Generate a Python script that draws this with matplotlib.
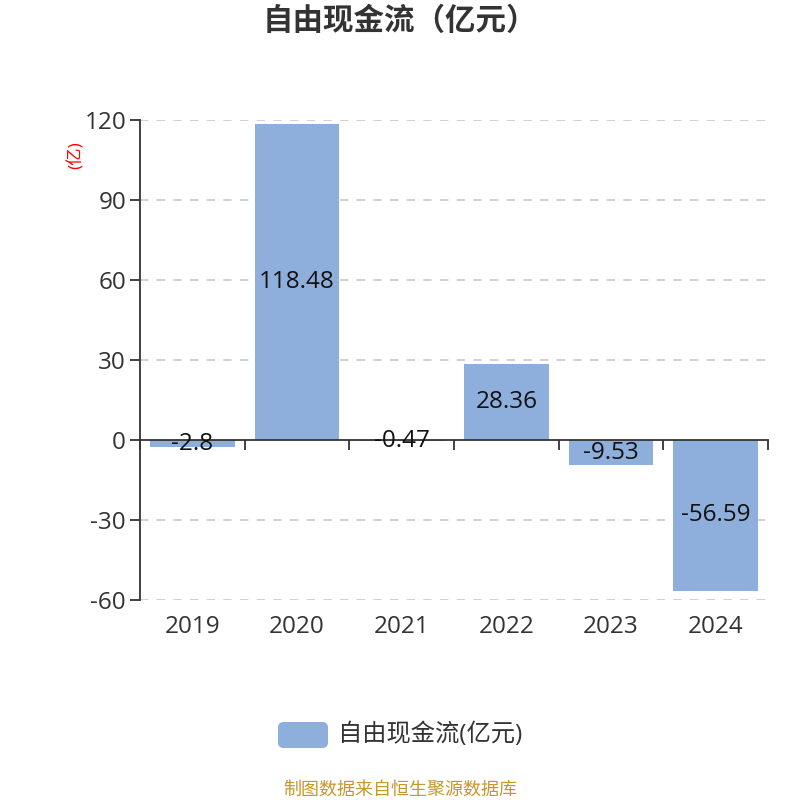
import numpy as np
import matplotlib.pyplot as plt
from matplotlib.patches import FancyBboxPatch
from matplotlib.transforms import blended_transform_factory

plt.rcParams['font.family'] = ['Open Sans', 'Noto Sans CJK SC', 'DejaVu Sans']

# 数据
years = ["2019", "2020", "2021", "2022", "2023", "2024"]
fcf = [-2.8, 118.48, -0.47, 28.36, -9.53, -56.59]
labels = ["-2.8", "118.48", "-0.47", "28.36", "-9.53", "-56.59"]
yticks = [-60, -30, 0, 30, 60, 90, 120]

bar_color = "#8eaedb"
text_color = "#333333"

fig = plt.figure(figsize=(8, 8), dpi=100)
ax = fig.add_axes([0.175, 0.25, 0.785, 0.60])

x = np.arange(len(years))
ax.bar(x, fcf, width=0.81, color=bar_color, zorder=2)
for xi, v, lab in zip(x, fcf, labels):
    ax.text(xi, v / 2, lab, ha="center", va="center", fontsize=17.5,
            color="#111111", zorder=3)

ax.set_xlim(-0.5, len(years) - 0.5)
ax.set_ylim(-60, 120)
ax.set_yticks(yticks)
ax.set_yticklabels([str(t) for t in yticks], fontsize=17.5, color=text_color)
for t in yticks:
    if t != 0:
        ax.axhline(t, color="#c8c8c8", linestyle=(0, (5, 5)), linewidth=1.2, zorder=1)

# x 轴放在 0 处，刻度在类别边界
ax.spines["bottom"].set_position(("data", 0))
ax.spines["bottom"].set_color(text_color)
ax.spines["bottom"].set_linewidth(1.3)
ax.spines["left"].set_color(text_color)
ax.spines["left"].set_linewidth(1.3)
ax.spines["top"].set_visible(False)
ax.spines["right"].set_visible(False)
ax.set_xticks(np.arange(-0.5, len(years), 1.0))
ax.set_xticklabels([])
ax.tick_params(axis="x", direction="out", length=7, width=1.3, color=text_color)
ax.tick_params(axis="y", direction="out", length=7, width=1.3, color=text_color, pad=3)

trans = blended_transform_factory(ax.transData, ax.transAxes)
for xi, yr in zip(x, years):
    ax.text(xi, -0.056, yr, transform=trans, ha="center", va="center",
            fontsize=17.5, color=text_color)

# 单位
fig.text(0.095, 0.806, "(亿)", rotation=90, color="red", fontsize=12.5,
         ha="center", va="center")

fig.text(0.5, 0.972, "自由现金流（亿元）", ha="center", va="center",
         fontsize=22, fontweight="bold", color=text_color)

# 图例
leg = FancyBboxPatch((0.3475, 0.065), 0.0625, 0.0325,
                     boxstyle="round,pad=0,rounding_size=0.007",
                     transform=fig.transFigure, facecolor=bar_color,
                     edgecolor="none")
fig.patches.append(leg)
fig.text(0.423, 0.081, "自由现金流(亿元)", ha="left", va="center",
         fontsize=17.5, color=text_color)

fig.text(0.5, 0.0125, "制图数据来自恒生聚源数据库", ha="center", va="center",
         fontsize=13, color="#c8962a")

fig.savefig("out.png", dpi=100)
